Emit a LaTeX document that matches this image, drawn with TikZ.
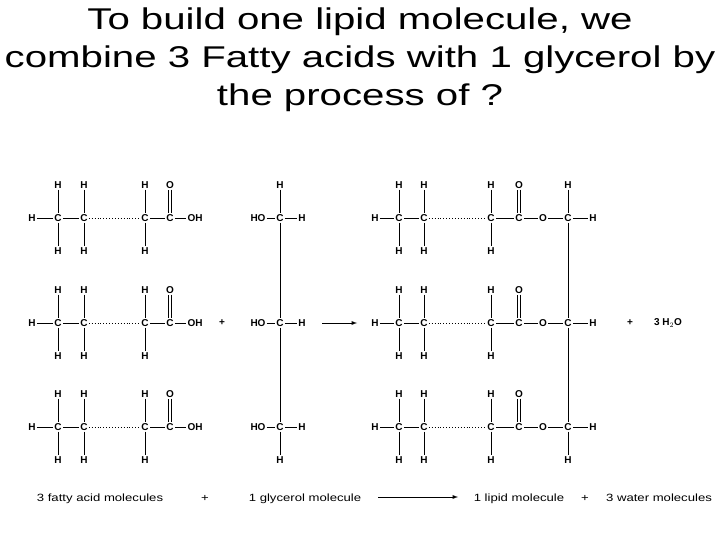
\documentclass[tikz,border=0pt]{standalone}
\usepackage{fontspec}
\setmainfont{Liberation Sans}
\begin{document}
\begin{tikzpicture}[x=1pt,y=-1pt,
  atm/.style={inner sep=1pt,font=\fontsize{10}{10}\selectfont\bfseries},
  bd/.style={line width=0.9pt},
  lab/.style={font=\fontsize{10.5}{11}\selectfont,xscale=1.25,anchor=base},
  ttl/.style={font=\fontsize{30}{38}\selectfont,align=center,xscale=1.34}]
\useasboundingbox (0,0) rectangle (720,540);
\node[ttl] (title) at (360,60) {To build one lipid molecule, we\\combine 3 Fatty acids with 1 glycerol by\\the process of ?};
\foreach \r/\y in {1/218,2/323,3/427}{
  \node[atm] (fh\r) at (32,\y) {H};
  \node[atm] (fa\r) at (58,\y) {C};
  \node[atm] (fb\r) at (84,\y) {C};
  \node[atm] (fc\r) at (145,\y) {C};
  \node[atm] (fd\r) at (170,\y) {C};
  \node[atm] (foh\r) at (195,\y) {OH};
  \node[atm] (fau\r) at (58,\y-33) {H};
  \node[atm] (fal\r) at (58,\y+33) {H};
  \node[atm] (fbu\r) at (84,\y-33) {H};
  \node[atm] (fbl\r) at (84,\y+33) {H};
  \node[atm] (fcu\r) at (145,\y-33) {H};
  \node[atm] (fcl\r) at (145,\y+33) {H};
  \node[atm] (fdo\r) at (170,\y-33) {O};
  \draw[bd] (fh\r)--(fa\r) (fa\r)--(fb\r) (fau\r)--(fa\r)--(fal\r) (fbu\r)--(fb\r)--(fbl\r) (fcu\r)--(fc\r)--(fcl\r) (fc\r)--(fd\r)--(foh\r);
  \draw[bd,dotted] (fb\r)--(fc\r);
  \draw[bd,double,double distance=1.5pt] (fdo\r)--(fd\r);
  \node[atm] (gho\r) at (258,\y) {HO};
  \node[atm] (gc\r) at (280,\y) {C};
  \node[atm] (gh\r) at (302,\y) {H};
  \draw[bd] (gho\r)--(gc\r)--(gh\r);
  \node[atm] (lh\r) at (375,\y) {H};
  \node[atm] (la\r) at (399,\y) {C};
  \node[atm] (lb\r) at (424,\y) {C};
  \node[atm] (lc\r) at (491,\y) {C};
  \node[atm] (ld\r) at (519,\y) {C};
  \node[atm] (lo\r) at (543,\y) {O};
  \node[atm] (le\r) at (568,\y) {C};
  \node[atm] (lr\r) at (593,\y) {H};
  \node[atm] (lau\r) at (399,\y-33) {H};
  \node[atm] (lal\r) at (399,\y+33) {H};
  \node[atm] (lbu\r) at (424,\y-33) {H};
  \node[atm] (lbl\r) at (424,\y+33) {H};
  \node[atm] (lcu\r) at (491,\y-33) {H};
  \node[atm] (lcl\r) at (491,\y+33) {H};
  \node[atm] (ldo\r) at (519,\y-33) {O};
  \draw[bd] (lh\r)--(la\r)--(lb\r) (lau\r)--(la\r)--(lal\r) (lbu\r)--(lb\r)--(lbl\r) (lcu\r)--(lc\r)--(lcl\r) (lc\r)--(ld\r)--(lo\r)--(le\r)--(lr\r);
  \draw[bd,dotted] (lb\r)--(lc\r);
  \draw[bd,double,double distance=1.5pt] (ldo\r)--(ld\r);
}
\node[atm] (gtop) at (280,185) {H};
\node[atm] (gbot) at (280,460) {H};
\draw[bd] (gtop)--(gc1)--(gc2)--(gc3)--(gbot);
\node[atm] (ltop) at (568,185) {H};
\node[atm] (lbot) at (568,460) {H};
\draw[bd] (ltop)--(le1)--(le2)--(le3)--(lbot);
\node[atm] (p1) at (222,323) {+};
\coordinate (a1s) at (322,323); \coordinate (a1e) at (357,323);
\draw[bd,-latex] (a1s)--(a1e);
\node[atm] (p2) at (630,323) {+};
\node[atm] (w) at (668,323) {3 H$_2$O};
\node[lab] (t1) at (100,501) {3 fatty acid molecules};
\node[lab] (t2) at (205,501) {+};
\node[lab] (t3) at (305,501) {1 glycerol molecule};
\node[lab] (t4) at (519,501) {1 lipid molecule};
\node[lab] (t5) at (585,501) {+};
\node[lab] (t6) at (659,501) {3 water molecules};
\coordinate (a2s) at (378,497); \coordinate (a2e) at (458,497);
\draw[bd,-latex] (a2s)--(a2e);
\end{tikzpicture}
\end{document}
